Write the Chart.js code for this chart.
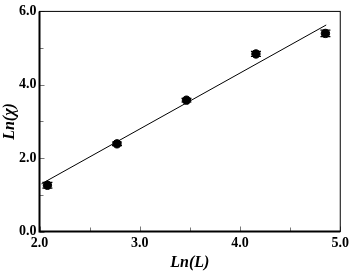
<!DOCTYPE html>
<html><head><meta charset="utf-8">
<script src="https://cdn.jsdelivr.net/npm/chart.js@4/dist/chart.umd.min.js"></script>
<style>html,body{margin:0;padding:0;background:#fff}#wrap{width:352px;height:272px}</style>
</head><body><div id="wrap"><canvas id="c" width="352" height="272"></canvas></div>
<script>
const lnL = [2.079, 2.773, 3.466, 4.159, 4.852];
const lnChi = [1.26, 2.39, 3.58, 4.84, 5.40];
const chiErr = [0.08, 0.05, 0.05, 0.07, 0.09];
const fitX = [2.02, 4.86];
const fitY = [1.30, 5.63];
const xTicks = [2.0, 3.0, 4.0, 5.0];
const yTicks = [0.0, 2.0, 4.0, 6.0];
const xMinor = [2.5, 3.5, 4.5];
const yMinor = [1.0, 3.0, 5.0];

const frame = {
  id: 'frame',
  afterDatasetsDraw(chart) {
    const {ctx, chartArea: a, scales: {x, y}} = chart;
    ctx.save();
    ctx.strokeStyle = '#000'; ctx.lineWidth = 1.2;
    lnL.forEach((v, i) => {
      const px = x.getPixelForValue(v);
      const p1 = y.getPixelForValue(lnChi[i] + chiErr[i]);
      const p2 = y.getPixelForValue(lnChi[i] - chiErr[i]);
      ctx.beginPath();
      ctx.moveTo(px, p1); ctx.lineTo(px, p2);
      ctx.moveTo(px - 5, p1); ctx.lineTo(px + 5, p1);
      ctx.moveTo(px - 5, p2); ctx.lineTo(px + 5, p2);
      ctx.stroke();
    });
    ctx.strokeStyle = '#777'; ctx.lineWidth = 1;
    const tk = (arr, len) => arr.forEach(v => {
      const px = Math.round(x.getPixelForValue(v)) + 0.5;
      ctx.beginPath(); ctx.moveTo(px, a.bottom); ctx.lineTo(px, a.bottom - len); ctx.stroke();
    });
    const tky = (arr, len) => arr.forEach(v => {
      const py = Math.round(y.getPixelForValue(v)) + 0.5;
      ctx.beginPath(); ctx.moveTo(a.left, py); ctx.lineTo(a.left + len, py); ctx.stroke();
    });
    tk(xTicks, 5); tk(xMinor, 4); tky(yTicks, 5); tky(yMinor, 4);
    ctx.strokeStyle = '#000';
    ctx.lineWidth = 1;
    ctx.strokeRect(a.left, a.top, a.right - a.left, a.bottom - a.top);
    ctx.lineWidth = 2;
    ctx.beginPath();
    ctx.moveTo(a.left, a.top); ctx.lineTo(a.left, a.bottom); ctx.lineTo(a.right, a.bottom);
    ctx.stroke();
    ctx.restore();
  }
};

new Chart(document.getElementById('c'), {
  type: 'scatter',
  data: {
    datasets: [
      {
        data: lnL.map((v, i) => ({x: v, y: lnChi[i]})),
        backgroundColor: '#000', borderColor: '#000',
        pointRadius: 4.2, pointHoverRadius: 4.2
      },
      {
        type: 'line',
        data: fitX.map((v, i) => ({x: v, y: fitY[i]})),
        borderColor: '#000', borderWidth: 1, pointRadius: 0, fill: false
      }
    ]
  },
  options: {
    responsive: false, animation: false, devicePixelRatio: 1,
    layout: {padding: {top: 5, right: 10, left: 0, bottom: 0}},
    plugins: {legend: {display: false}, tooltip: {enabled: false}},
    scales: {
      x: {
        type: 'linear', min: 2, max: 5,
        afterBuildTicks: s => { s.ticks = xTicks.map(v => ({value: v})); },
        afterFit: s => { s.height = 40.5; },
        grid: {display: false, drawTicks: false},
        border: {display: false},
        ticks: {color: '#000', padding: 3, font: {family: 'Liberation Serif', weight: 'bold', size: 14},
                callback: v => v.toFixed(1), maxRotation: 0},
        title: {display: true, text: 'Ln(L)', color: '#000', padding: {top: 4, bottom: 0},
                font: {family: 'Liberation Serif', weight: 'bold', style: 'italic', size: 16}}
      },
      y: {
        type: 'linear', min: 0, max: 6,
        afterBuildTicks: s => { s.ticks = yTicks.map(v => ({value: v})); },
        afterFit: s => { s.width = 39.5; },
        grid: {display: false, drawTicks: false},
        border: {display: false},
        ticks: {color: '#000', padding: 3, font: {family: 'Liberation Serif', weight: 'bold', size: 14},
                callback: v => v.toFixed(1)},
        title: {display: true, text: 'Ln(χ)', color: '#000', padding: {top: 0, bottom: 0},
                font: {family: 'Liberation Serif', weight: 'bold', style: 'italic', size: 16}}
      }
    }
  },
  plugins: [frame]
});
</script></body></html>
